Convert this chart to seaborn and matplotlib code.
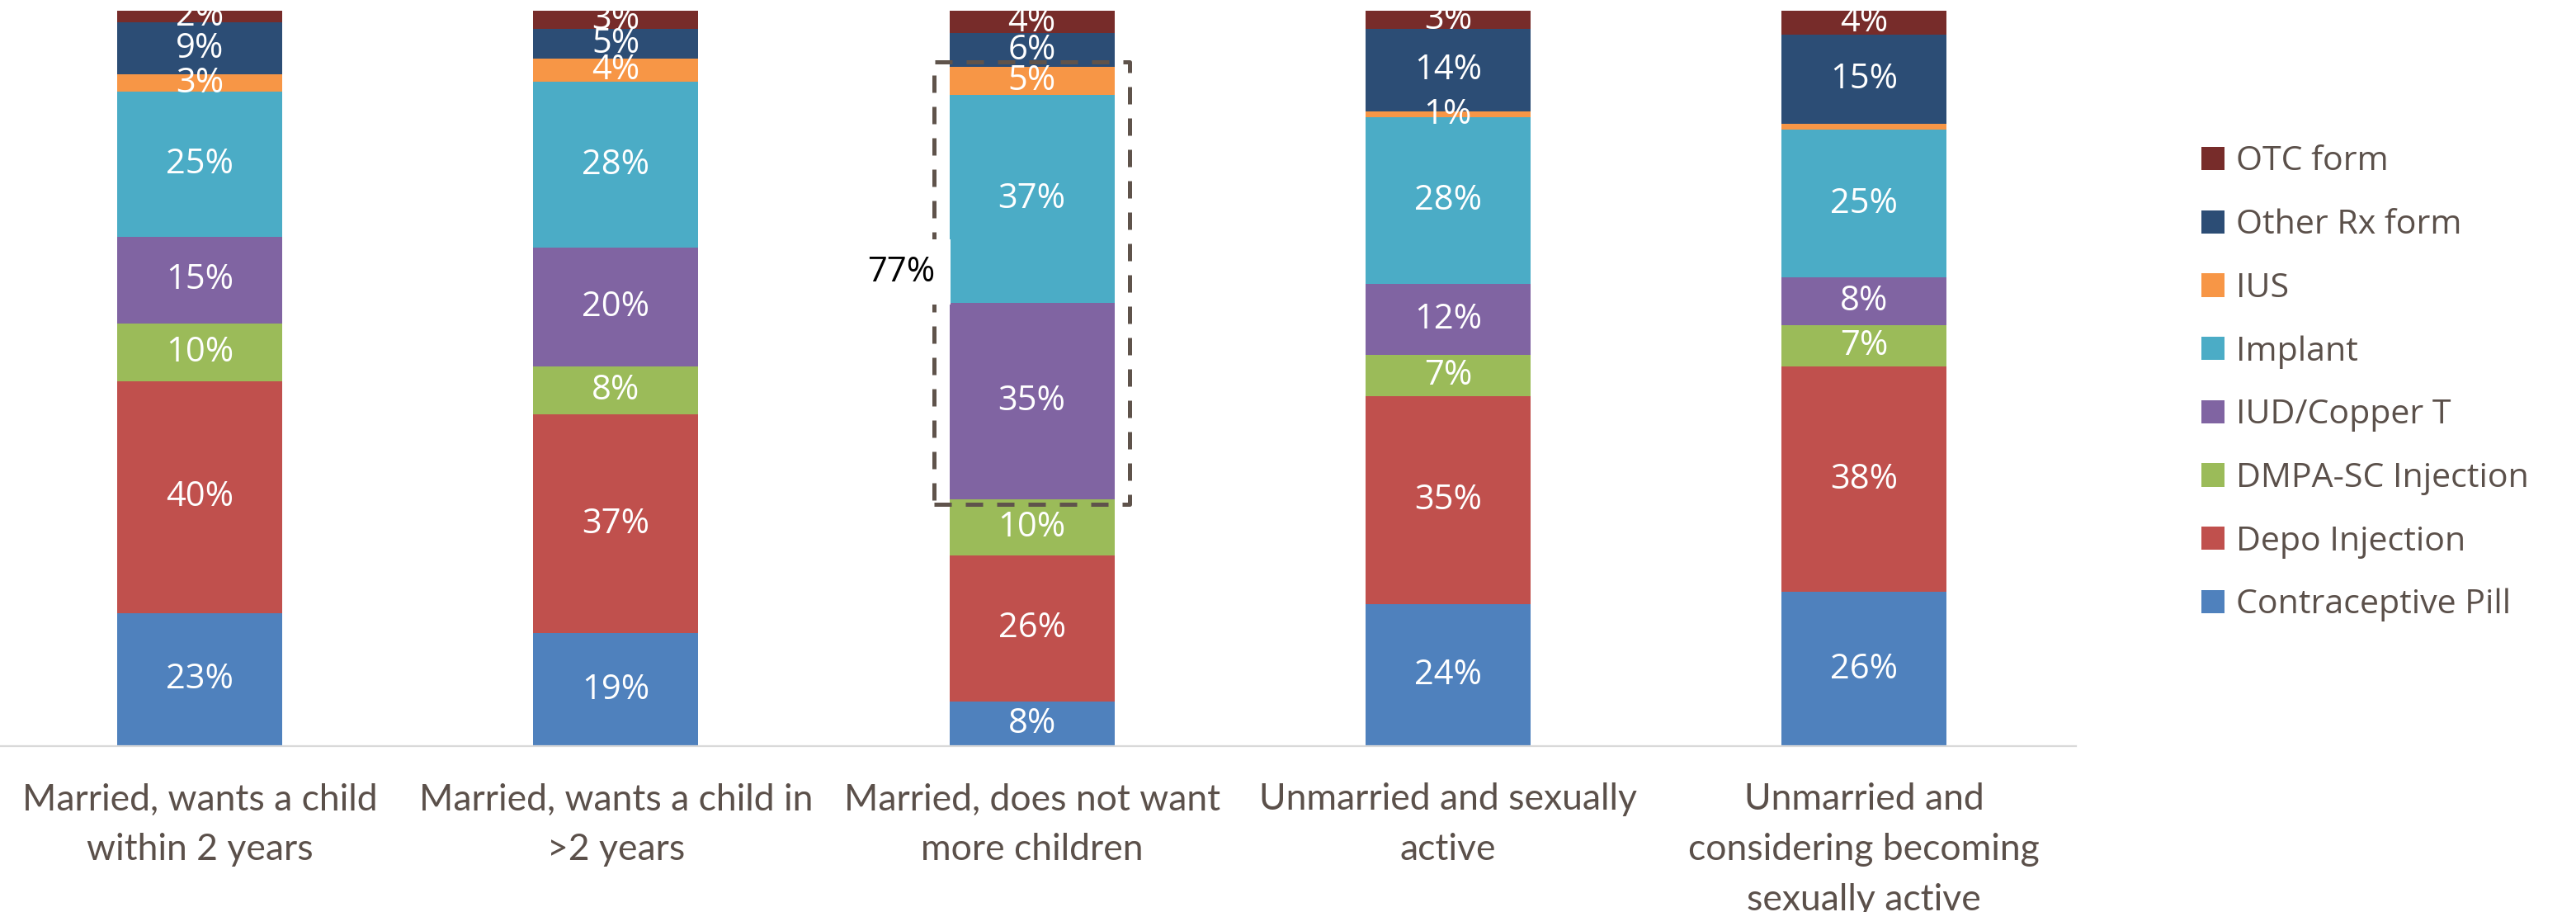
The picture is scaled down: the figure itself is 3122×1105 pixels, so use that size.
import numpy as np
import pandas as pd
import matplotlib
matplotlib.use("Agg")
import matplotlib.pyplot as plt
from matplotlib.patches import Rectangle, Patch
import seaborn as sns

# --- data -------------------------------------------------------------
groups = [
    "Married, wants a child\nwithin 2 years",
    "Married, wants a child in\n>2 years",
    "Married, does not want\nmore children",
    "Unmarried and sexually\nactive",
    "Unmarried and\nconsidering becoming\nsexually active",
]
methods = [
    "Contraceptive Pill",
    "Depo Injection",
    "DMPA-SC Injection",
    "IUD/Copper T",
    "Implant",
    "IUS",
    "Other Rx form",
    "OTC form",
]
pill = [23, 19, 8, 24, 26]
depo = [40, 37, 26, 35, 38]
dmpa_sc = [10, 8, 10, 7, 7]
iud = [15, 20, 35, 12, 8]
implant = [25, 28, 37, 28, 25]
ius = [3, 4, 5, 1, 1]
other_rx = [9, 5, 6, 14, 15]
otc = [2, 3, 4, 3, 4]
# segments whose value is not printed on the bar
unlabeled = [(4, "IUS")]
# highlighted block on the third bar, with its callout text
highlight_group = 2
highlight_methods = ["IUD/Copper T", "Implant", "IUS"]
highlight_text = "77%"

colors = {
    "Contraceptive Pill": "#4F81BD",
    "Depo Injection": "#C0504D",
    "DMPA-SC Injection": "#9BBB59",
    "IUD/Copper T": "#8064A2",
    "Implant": "#4BACC6",
    "IUS": "#F79646",
    "Other Rx form": "#2C4D75",
    "OTC form": "#772C2A",
}

# --- long table with 100%-stacked shares ---------------------------------
values = np.array([pill, depo, dmpa_sc, iud, implant, ius, other_rx, otc], dtype=float)
shares = values / values.sum(axis=0) * 100
cum = np.cumsum(shares, axis=0)
rows = []
for mi, m in enumerate(methods):
    for gi, g in enumerate(groups):
        rows.append(dict(group=g, method=m, value=values[mi, gi],
                         share=shares[mi, gi], top=cum[mi, gi]))
df = pd.DataFrame(rows)

# --- figure -------------------------------------------------------------
sns.set_theme(style="white")
plt.rcParams["font.family"] = ["Open Sans", "DejaVu Sans"]
text_grey = "#5b504a"

fig = plt.figure(figsize=(15.61, 5.525), dpi=200)
ax = fig.add_axes([0.0, 0.1819, 0.806, 0.8063])

bar_w = 0.397
# draw cumulative tops from the highest down so each segment shows
for m in reversed(methods):
    sub = df[df["method"] == m]
    sns.barplot(data=sub, x="group", y="top", order=groups, color=colors[m],
                saturation=1, width=bar_w, errorbar=None, ax=ax,
                linewidth=0)

# value labels centred in each segment
for _, r in df.iterrows():
    gi = groups.index(r["group"])
    if (gi, r["method"]) in unlabeled:
        continue
    ax.text(gi, r["top"] - r["share"] / 2, f"{int(r['value'])}%",
            ha="center", va="center", color="white", fontsize=15,
            clip_on=True, zorder=5)

# dashed frame around the long-acting methods on the third bar
idx = [methods.index(m) for m in highlight_methods]
lo = cum[min(idx), highlight_group] - shares[min(idx), highlight_group]
hi = cum[max(idx), highlight_group]
pad_x, pad_y = 0.037, 0.7
frame = Rectangle((highlight_group - bar_w / 2 - pad_x, lo - pad_y),
                  bar_w + 2 * pad_x, hi - lo + 2 * pad_y,
                  fill=False, edgecolor="#5f534b", linewidth=1.8,
                  linestyle=(0, (4.2, 3.4)), joinstyle="round",
                  capstyle="butt", zorder=6, clip_on=False)
ax.add_patch(frame)
ax.text(highlight_group - bar_w / 2 - 0.115, (lo + hi) / 2 + 1.5,
        highlight_text, ha="center", va="center", fontsize=15,
        color="black", zorder=7,
        bbox=dict(boxstyle="square,pad=0.45", fc="white", ec="none"))

# axes styling
ax.set_xlim(-0.48, 4.51)
ax.set_ylim(0, 100)
ax.set_xlabel("")
ax.set_ylabel("")
ax.set_yticks([])
for s in ["top", "left", "right"]:
    ax.spines[s].set_visible(False)
ax.spines["bottom"].set_color("#d9d9d9")
ax.spines["bottom"].set_linewidth(0.8)
ax.tick_params(axis="x", length=0, pad=16)
for lbl in ax.get_xticklabels():
    lbl.set_fontfamily(["Lato", "DejaVu Sans"])
    lbl.set_fontsize(16)
    lbl.set_color(text_grey)
    lbl.set_linespacing(1.6)

# legend, top entry first
handles = [Patch(facecolor=colors[m], edgecolor="none", label=m)
           for m in reversed(methods)]
fig.legend(handles=handles, loc="upper left",
           bbox_to_anchor=(2668 / 3122, 1 - 176 / 1105),
           frameon=False, fontsize=14.8, labelcolor=text_grey,
           handlelength=0.68, handleheight=0.68, handletextpad=0.35,
           labelspacing=0.88, borderaxespad=0, borderpad=0)

fig.savefig("out.png", dpi=200, facecolor="white")
